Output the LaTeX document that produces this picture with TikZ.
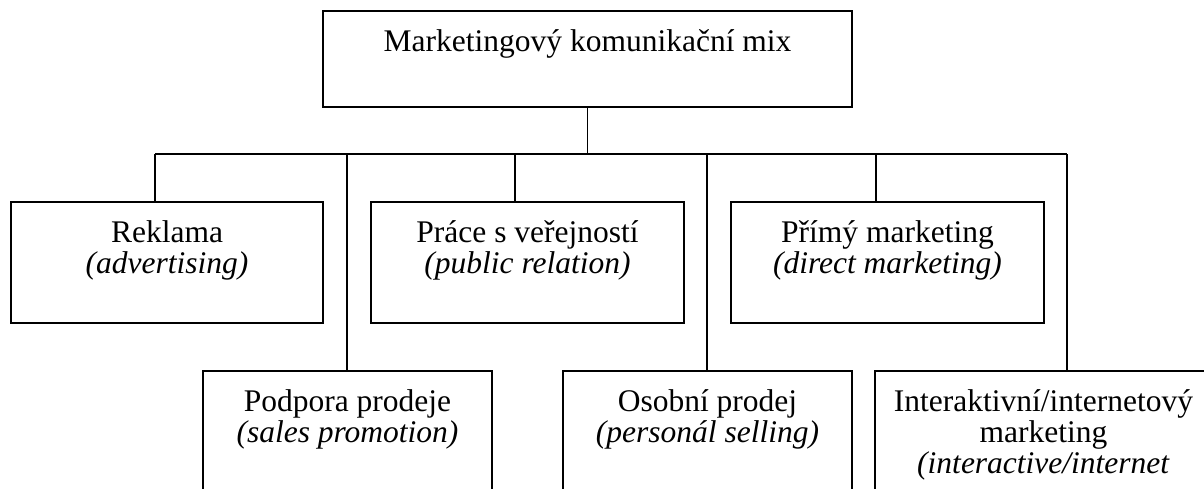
\documentclass[tikz,border=0pt]{standalone}
\usepackage{fontspec}
\setmainfont{Liberation Serif}
\begin{document}
\begin{tikzpicture}[x=0.4pt, y=-0.4pt, line width=0.5pt,
    box/.style={draw, inner sep=0pt, minimum height=48.4pt},
    low/.style={draw, inner sep=0pt, minimum height=63.6pt},
    txt/.style={anchor=north, align=center, inner sep=0pt, yshift=-7.4pt,
        font=\fontsize{12.6}{12.4}\selectfont}]

    \useasboundingbox (0,0) rectangle (1204,488);
    \clip (0,0) rectangle (1204,488);

    % hlavni box
    \node[draw, inner sep=0pt, minimum width=211.6pt, minimum height=38.4pt] (mix) at (587.5,59) {};
    \node[txt] (mixT) at (mix.north) {Marketingový komunikační mix};

    % horni rada
    \node[box, minimum width=124.8pt] (rek) at (167,262.5) {};
    \node[box, minimum width=125.2pt] (pvz) at (527.5,262.5) {};
    \node[box, minimum width=125.2pt] (pmk) at (887.5,262.5) {};

    % dolni rada
    \node[low, minimum width=115.6pt] (ppr) at (347.5,450.5) {};
    \node[low, minimum width=115.6pt] (opr) at (707.5,450.5) {};
    \node[low, minimum width=134.8pt] (imk) at (1043.5,450.5) {};

    % texty
    \node[txt] (rekT) at (rek.north) {Reklama\\\textit{(advertising)}};
    \node[txt] (pvzT) at (pvz.north) {Práce s veřejností\\\textit{(public relation)}};
    \node[txt] (pmkT) at (pmk.north) {Přímý marketing\\\textit{(direct marketing)}};
    \node[txt] (pprT) at (ppr.north) {Podpora prodeje\\\textit{(sales promotion)}};
    \node[txt] (oprT) at (opr.north) {Osobní prodej\\\textit{(personál selling)}};
    \node[txt] (imkT) at (imk.north) {Interaktivní/internetový\\marketing\\\textit{(interactive/internet}};

    % spojnice
    \coordinate (d1) at (155,154);
    \coordinate (d2) at (347,154);
    \coordinate (d3) at (515,154);
    \coordinate (d4) at (707,154);
    \coordinate (d5) at (876,154);
    \coordinate (d6) at (1067,154);
    \draw (mix.south) -- (mix.south |- d1);
    \draw (d1) -- (d6);
    \draw (d1) -- (d1 |- rek.north);
    \draw (d2) -- (d2 |- ppr.north);
    \draw (d3) -- (d3 |- pvz.north);
    \draw (d4) -- (d4 |- opr.north);
    \draw (d5) -- (d5 |- pmk.north);
    \draw (d6) -- (d6 |- imk.north);
\end{tikzpicture}
\end{document}
